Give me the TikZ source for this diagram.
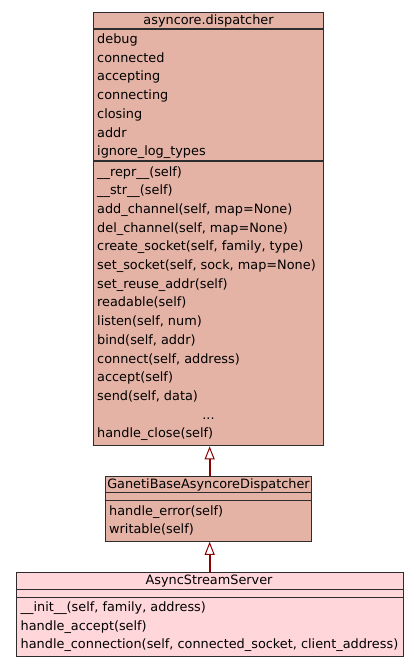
\documentclass[tikz,border=0pt]{standalone}
\usepackage{fontspec}
\setmainfont{DejaVu Sans}
\usetikzlibrary{arrows.meta}
\definecolor{fillA}{RGB}{228,179,166}
\definecolor{fillB}{RGB}{255,214,217}
\definecolor{edgeC}{RGB}{45,45,45}
\definecolor{arrC}{RGB}{139,0,0}
\begin{document}
\begin{tikzpicture}[x=1pt,y=-1pt,
  clsbox/.style={draw=edgeC, line width=1.3pt, rectangle, inner sep=0pt, anchor=north west},
  member/.style={anchor=base west, inner sep=0pt, font=\fontsize{12.85}{14}\selectfont},
  ctitle/.style={anchor=base, inner sep=0pt, font=\fontsize{12.85}{14}\selectfont},
  sepline/.style={draw=edgeC, line width=1.3pt},
  inherit/.style={draw=arrC, line width=2.2pt, -{Triangle[fill=white, length=13pt, width=10pt, line width=1pt]}}]
\useasboundingbox (0,0) rectangle (419,667);
% box 1
\node[clsbox, fill=fillA, minimum width=230pt, minimum height=433pt] (b1) at (93,12) {};
\node[ctitle] (b1t) at (208.5,24) {asyncore.dispatcher};
\draw[sepline] (93,29) -- (323,29);
\draw[sepline] (93,161) -- (323,161);
\node[member] (a1) at (97,43.5) {debug};
\node[member] (a2) at (97,62.2) {connected};
\node[member] (a3) at (97,80.9) {accepting};
\node[member] (a4) at (97,99.6) {connecting};
\node[member] (a5) at (97,118.3) {closing};
\node[member] (a6) at (97,137) {addr};
\node[member] (a7) at (97,155.7) {ignore\_log\_types};
\node[member] (m1) at (97,176) {\_\_repr\_\_(self)};
\node[member] (m2) at (97,194.7) {\_\_str\_\_(self)};
\node[member] (m3) at (97,213.4) {add\_channel(self, map=None)};
\node[member] (m4) at (97,232.1) {del\_channel(self, map=None)};
\node[member] (m5) at (97,250.8) {create\_socket(self, family, type)};
\node[member] (m6) at (97,269.5) {set\_socket(self, sock, map=None)};
\node[member] (m7) at (97,288.2) {set\_reuse\_addr(self)};
\node[member] (m8) at (97,306.9) {readable(self)};
\node[member] (m9) at (97,325.6) {listen(self, num)};
\node[member] (m10) at (97,344.3) {bind(self, addr)};
\node[member] (m11) at (97,363) {connect(self, address)};
\node[member] (m12) at (97,381.7) {accept(self)};
\node[member] (m13) at (97,400.4) {send(self, data)};
\node[ctitle] (m14) at (208.5,419.1) {...};
\node[member] (m15) at (97,437.8) {handle\_close(self)};
% box 2
\node[clsbox, fill=fillA, minimum width=206pt, minimum height=65pt] (b2) at (105,475.5) {};
\node[ctitle] (b2t) at (208.5,488) {GanetiBaseAsyncoreDispatcher};
\draw[sepline] (105,492.5) -- (311,492.5);
\draw[sepline] (105,500.5) -- (311,500.5);
\node[member] (n1) at (109,515) {handle\_error(self)};
\node[member] (n2) at (109,533.5) {writable(self)};
% box 3
\node[clsbox, fill=fillB, minimum width=387pt, minimum height=84pt] (b3) at (15.5,572) {};
\node[ctitle] (b3t) at (209,584.5) {AsyncStreamServer};
\draw[sepline] (15.5,589.3) -- (402.5,589.3);
\draw[sepline] (15.5,597.3) -- (402.5,597.3);
\node[member] (k1) at (20.5,611.7) {\_\_init\_\_(self, family, address)};
\node[member] (k2) at (20.5,630) {handle\_accept(self)};
\node[member] (k3) at (20.5,648.3) {handle\_connection(self, connected\_socket, client\_address)};
% inheritance
\draw[inherit] (b2.north) ++(1,0) coordinate (c2) (c2) -- (c2 |- b1.south);
\draw[inherit] (b3.north -| c2) coordinate (c3) (c3) -- (c3 |- b2.south);
\end{tikzpicture}
\end{document}
